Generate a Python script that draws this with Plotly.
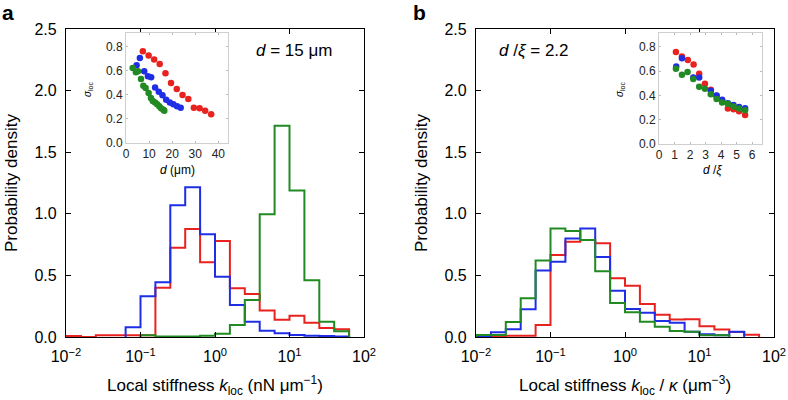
import plotly.graph_objects as go

# ---------------- data ----------------
# histogram bin edges (log10 of stiffness), 0.2-decade bins
BIN_EDGES_LOG = [-2.0, -1.8, -1.6, -1.4, -1.2, -1.0, -0.8, -0.6, -0.4, -0.2,
                 0.0, 0.2, 0.4, 0.6, 0.8, 1.0, 1.2, 1.4, 1.6, 1.8]

# panel a: probability density per bin (19 bins)
a_red = [0.008, 0.0, 0.015, 0.015, 0.015, 0.015, 0.40, 0.725, 0.877, 0.606,
         0.78, 0.395, 0.35, 0.215, 0.14, 0.173, 0.115, 0.074, 0.062]
a_blue = [0.0, 0.0, 0.0, 0.0, 0.08, 0.33, 0.444, 1.07, 1.215, 0.834,
          0.49, 0.26, 0.124, 0.05, 0.03, 0.016, 0.01, 0.008, 0.004]
a_green = [0.0, 0.0, 0.0, 0.0, 0.0, 0.015, 0.005, 0.005, 0.005, 0.01,
           0.027, 0.097, 0.30, 0.996, 1.715, 1.19, 0.46, 0.124, 0.046]

# panel b
b_red = [0.0, 0.005, 0.01, 0.01, 0.097, 0.665, 0.774, 0.787, 0.76, 0.476,
         0.417, 0.268, 0.18, 0.143, 0.145, 0.087, 0.06, 0.04, 0.019]
b_blue = [0.005, 0.038, 0.062, 0.225, 0.54, 0.61, 0.80, 0.88, 0.65, 0.376,
          0.227, 0.197, 0.13, 0.116, 0.043, 0.022, 0.015, 0.043, 0.0]
b_green = [0.016, 0.016, 0.122, 0.314, 0.62, 0.88, 0.86, 0.787, 0.533, 0.275,
           0.2, 0.124, 0.084, 0.049, 0.043, 0.015, 0.015, 0.0, 0.0]

# inset a: sigma_loc vs d (um)
ia_red_d = [7.3, 9.8, 12.2, 14.6, 17.1, 19.5, 22.0, 24.5, 27.0, 29.4, 31.9, 34.3, 36.9]
ia_red_s = [0.758, 0.723, 0.69, 0.654, 0.576, 0.497, 0.447, 0.397, 0.364, 0.292, 0.287, 0.267, 0.237]
ia_blue_d = [4.6, 6.0, 7.9, 9.5, 10.9, 12.6, 14.2, 15.8, 17.4, 19.0, 20.5, 22.1, 23.7]
ia_blue_s = [0.643, 0.703, 0.593, 0.552, 0.543, 0.46, 0.425, 0.394, 0.358, 0.336, 0.32, 0.303, 0.292]
ia_green_d = [2.9, 4.3, 5.2, 6.5, 7.5, 8.5, 9.8, 10.8, 11.6, 12.6, 13.5, 14.4, 15.2, 16.2, 16.6]
ia_green_s = [0.62, 0.585, 0.593, 0.53, 0.474, 0.455, 0.414, 0.372, 0.348, 0.336, 0.32, 0.303, 0.287, 0.276, 0.267]

# inset b: sigma_loc vs d/xi
ib_red_x = [1.09, 1.48, 1.86, 2.23, 2.59, 2.96, 3.34, 3.71, 4.07, 4.44, 4.80, 5.16, 5.55]
ib_red_s = [0.758, 0.722, 0.692, 0.656, 0.579, 0.496, 0.447, 0.397, 0.358, 0.292, 0.287, 0.27, 0.24]
ib_blue_x = [1.11, 1.48, 2.21, 2.59, 3.34, 3.71, 4.07, 4.44, 4.80, 5.16, 5.55]
ib_blue_s = [0.639, 0.706, 0.548, 0.548, 0.438, 0.40, 0.364, 0.336, 0.322, 0.306, 0.295]
ib_green_x = [1.09, 1.48, 1.84, 2.21, 2.59, 2.96, 3.34, 3.71, 4.07, 4.44, 4.80, 5.16, 5.55]
ib_green_s = [0.62, 0.571, 0.593, 0.535, 0.471, 0.455, 0.411, 0.37, 0.342, 0.331, 0.309, 0.292, 0.278]

X_TICK_VALS = [0.01, 0.1, 1, 10, 100]
X_TICK_TEXT = ["10<sup>−2</sup>", "10<sup>−1</sup>", "10<sup>0</sup>", "10<sup>1</sup>", "10<sup>2</sup>"]
Y_TICK_VALS = [0.0, 0.5, 1.0, 1.5, 2.0, 2.5]
IA_X_TICKS = [0, 10, 20, 30, 40]
IB_X_TICKS = [0, 1, 2, 3, 4, 5, 6]
INSET_Y_TICKS = [0.0, 0.2, 0.4, 0.6, 0.8]

RED = "#e8221f"
BLUE = "#1f2ee6"
GREEN = "#228a22"

FONT = "Liberation Sans, Arial, sans-serif"
W, H = 788, 400


def px_x(a, b):
    return [a / W, b / W]


def px_y(top, bottom):
    return [1 - bottom / H, 1 - top / H]


def step_trace(vals, color, xaxis, yaxis):
    first = next(i for i, v in enumerate(vals) if v > 0)
    last = max(i for i, v in enumerate(vals) if v > 0)
    xs = [10 ** BIN_EDGES_LOG[first]]
    ys = [0.0]
    for i in range(first, last + 1):
        xs.append(10 ** BIN_EDGES_LOG[i])
        ys.append(vals[i])
    xs.append(10 ** BIN_EDGES_LOG[last + 1])
    ys.append(0.0)
    return go.Scatter(x=xs, y=ys, mode="lines", line=dict(color=color, width=2, shape="hv"),
                      xaxis=xaxis, yaxis=yaxis, showlegend=False, hoverinfo="skip",
                      cliponaxis=False)


def dot_trace(x, y, color, xaxis, yaxis):
    return go.Scatter(x=x, y=y, mode="markers", marker=dict(color=color, size=6.5, line=dict(width=0)),
                      xaxis=xaxis, yaxis=yaxis, showlegend=False, hoverinfo="skip")


fig = go.Figure()

for vals, c in [(a_red, RED), (a_blue, BLUE), (a_green, GREEN)]:
    fig.add_trace(step_trace(vals, c, "x", "y"))
for vals, c in [(b_red, RED), (b_blue, BLUE), (b_green, GREEN)]:
    fig.add_trace(step_trace(vals, c, "x2", "y2"))

fig.add_trace(dot_trace(ia_red_d, ia_red_s, RED, "x3", "y3"))
fig.add_trace(dot_trace(ia_blue_d, ia_blue_s, BLUE, "x3", "y3"))
fig.add_trace(dot_trace(ia_green_d, ia_green_s, GREEN, "x3", "y3"))
fig.add_trace(dot_trace(ib_red_x, ib_red_s, RED, "x4", "y4"))
fig.add_trace(dot_trace(ib_blue_x, ib_blue_s, BLUE, "x4", "y4"))
fig.add_trace(dot_trace(ib_green_x, ib_green_s, GREEN, "x4", "y4"))

main_x = dict(type="log", range=[-2, 2], tickvals=X_TICK_VALS, ticktext=X_TICK_TEXT,
              showline=True, linecolor="black", linewidth=1.3, mirror="ticks",
              ticks="inside", ticklen=5, tickcolor="black", tickwidth=1.2,
              showgrid=False, zeroline=False, automargin=False, ticklabelstandoff=5,
              tickfont=dict(size=16, color="black"))
main_y = dict(range=[0, 2.5], tickvals=Y_TICK_VALS, tickformat=".1f",
              showline=True, linecolor="black", linewidth=1.3, mirror="ticks",
              ticks="inside", ticklen=5, tickcolor="black", tickwidth=1.2,
              showgrid=False, zeroline=False, automargin=False, ticklabelstandoff=5,
              tickfont=dict(size=16, color="black"))
inset_common = dict(showline=True, linecolor="#cfcfcf", linewidth=1, mirror="ticks",
                    ticks="inside", ticklen=2, tickcolor="#bbbbbb", automargin=False,
                    showgrid=False, zeroline=False, tickfont=dict(size=12, color="#222222"))

fig.update_layout(
    width=W, height=H, margin=dict(l=0, r=0, t=0, b=0, pad=0, autoexpand=False),
    paper_bgcolor="white", plot_bgcolor="white",
    font=dict(family=FONT, color="black"),
    xaxis=dict(domain=px_x(66, 364), anchor="y", **main_x),
    yaxis=dict(domain=px_y(29, 337), anchor="x", **main_y),
    xaxis2=dict(domain=px_x(476, 774), anchor="y2", **main_x),
    yaxis2=dict(domain=px_y(29, 337), anchor="x2", **main_y),
    xaxis3=dict(domain=px_x(126, 228), anchor="y3", range=[0, 44.2], tickvals=IA_X_TICKS, **inset_common),
    yaxis3=dict(domain=px_y(33, 143), anchor="x3", range=[0, 0.91], tickvals=INSET_Y_TICKS,
                tickformat=".1f", **inset_common),
    xaxis4=dict(domain=px_x(659, 762), anchor="y4", range=[0, 6.64], tickvals=IB_X_TICKS, **inset_common),
    yaxis4=dict(domain=px_y(33, 144), anchor="x4", range=[0, 0.915], tickvals=INSET_Y_TICKS,
                tickformat=".1f", **inset_common),
)


def ann(text, x, y, size, angle=0, xanchor="center", yanchor="middle"):
    fig.add_annotation(text=text, x=x / W, y=1 - y / H, xref="paper", yref="paper",
                       showarrow=False, font=dict(size=size, family=FONT, color="black"),
                       textangle=angle, xanchor=xanchor, yanchor=yanchor)


ann("<b>a</b>", 8, 13, 21)
ann("<b>b</b>", 419, 13, 21)
ann("Probability density", 11, 183, 17, angle=-90)
ann("Probability density", 421, 183, 17, angle=-90)
ann("Local stiffness <i>k</i><sub>loc</sub> (nN μm<sup>−1</sup>)", 215, 385, 17)
ann("Local stiffness <i>k</i><sub>loc</sub> / <i>κ</i> (μm<sup>−3</sup>)", 625, 385, 17)
ann("<i>d</i> = 15 μm", 294, 50, 17)
ann("<i>d</i> /<i>ξ</i> = 2.2", 534, 50, 17)
ann("<i>σ</i><sub>loc</sub>", 88, 90, 10, angle=-90)
ann("<i>σ</i><sub>loc</sub>", 620, 90, 10, angle=-90)
ann("<i>d</i> (μm)", 177, 170, 12)
ann("<i>d</i> /<i>ξ</i>", 712, 170, 12)

fig.write_html("out.html", config={"displayModeBar": False},
               post_script="document.body.style.margin='0';document.body.style.overflow='hidden';")
